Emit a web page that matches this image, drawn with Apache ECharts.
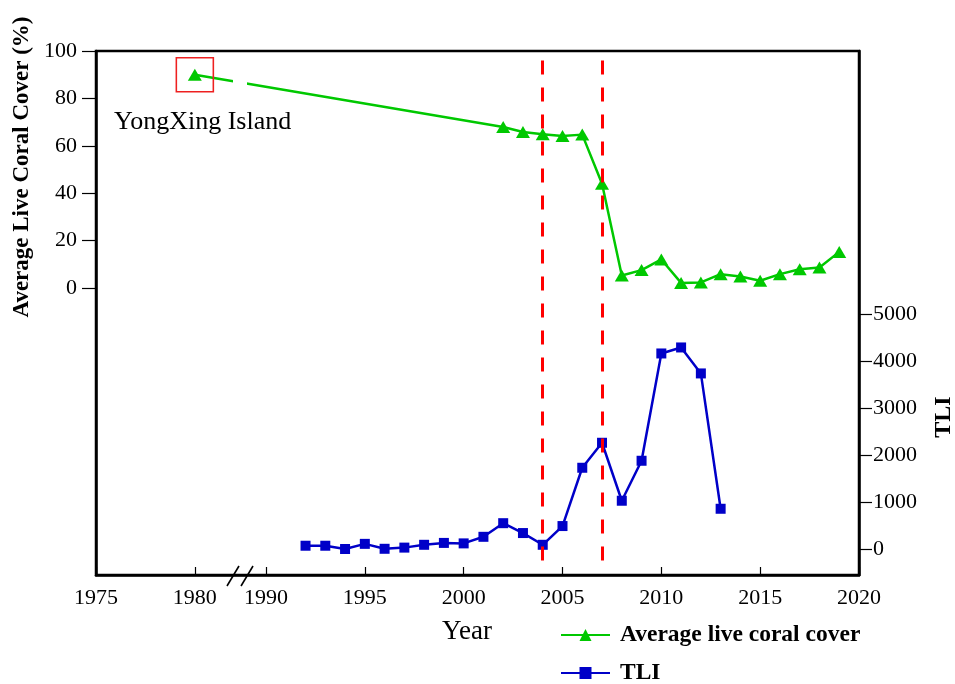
<!DOCTYPE html>
<html>
<head>
<meta charset="utf-8">
<script src="https://cdn.jsdelivr.net/npm/echarts@6/dist/echarts.min.js"></script>
<style>html,body{margin:0;padding:0;background:#fff}#c{width:955px;height:684px}</style>
</head>
<body>
<div id="c"></div>
<script>
// ---- data ----
const coralYears = [1980, 2002, 2003, 2004, 2005, 2006, 2007, 2008, 2009, 2010, 2011, 2012, 2013, 2014, 2015, 2016, 2017, 2018, 2019];
const coralCover = [90, 67.9, 65.8, 64.9, 64.1, 64.7, 44, 5.2, 7.5, 12, 2.1, 2.3, 5.8, 4.8, 3.0, 5.8, 7.9, 8.6, 15.2];
const tliYears = [1992, 1993, 1994, 1995, 1996, 1997, 1998, 1999, 2000, 2001, 2002, 2003, 2004, 2005, 2006, 2007, 2008, 2009, 2010, 2011, 2012, 2013];
const tliValues = [70, 70, 0, 110, 5, 30, 90, 130, 120, 260, 550, 340, 90, 489, 1730, 2262, 1028, 1879, 4163, 4291, 3738, 857];
const xTickYears = [1975, 1980, 1990, 1995, 2000, 2005, 2010, 2015, 2020];
const coralTicks = [0, 20, 40, 60, 80, 100];
const tliTicks = [0, 1000, 2000, 3000, 4000, 5000];
const eventYears = [2004, 2007];
const highlightYear = 1980;
const seriesNames = ['Average live coral cover', 'TLI'];

// broken x axis: years before 1990 are shifted right
const BREAK_SHIFT = 6.4;
const T = y => (y < 1990 ? y + BREAK_SHIFT : y);
const breakMarks = [1988.33, 1989.04];

const FF = 'Liberation Serif';
const chart = echarts.init(document.getElementById('c'), null, {renderer: 'canvas'});

const legendText = {fontFamily: FF, fontSize: 23.5, fontWeight: 'bold', color: '#000', padding: [0, 0, 0, 5]};

const option = {
  animation: false,
  backgroundColor: '#fff',
  grid: {left: 96, right: 96, top: 51, bottom: 109, show: true, borderColor: '#000', borderWidth: 2.5, containLabel: false},
  xAxis: {
    type: 'value', min: T(1975), max: 2020,
    axisLine: {onZero: false, lineStyle: {color: '#000', width: 2.5}},
    axisTick: {inside: true, length: 8, lineStyle: {color: '#000', width: 1.2}, customValues: xTickYears.map(T)},
    axisLabel: {customValues: xTickYears.map(T), color: '#000', fontFamily: FF, fontSize: 22, margin: 12,
      formatter: v => String(Math.round(v < 1990 ? v - BREAK_SHIFT : v))},
    splitLine: {show: false}
  },
  yAxis: [
    {
      type: 'value', position: 'left', min: -121.2, max: 100,
      axisLine: {onZero: false, lineStyle: {color: '#000', width: 2.5}},
      axisTick: {inside: false, length: 14, lineStyle: {color: '#000', width: 1.2}, customValues: coralTicks},
      axisLabel: {customValues: coralTicks, color: '#000', fontFamily: FF, fontSize: 22, margin: 19, formatter: v => String(v)},
      splitLine: {show: false}
    },
    {
      type: 'value', position: 'right', min: -553, max: 10602,
      axisLine: {onZero: false, lineStyle: {color: '#000', width: 2.5}},
      axisTick: {inside: false, length: 13, lineStyle: {color: '#000', width: 1.2}, customValues: tliTicks},
      axisLabel: {customValues: tliTicks, color: '#000', fontFamily: FF, fontSize: 22, margin: 14, formatter: v => String(v)},
      splitLine: {show: false}
    }
  ],
  legend: [
    {left: 555, top: 618, itemWidth: 49, itemHeight: 15, textStyle: legendText, data: [seriesNames[0]]},
    {left: 555, top: 656, itemWidth: 49, itemHeight: 15, textStyle: legendText, data: [seriesNames[1]]}
  ],
  series: [
    {
      name: seriesNames[0], type: 'line', yAxisIndex: 0,
      data: coralYears.map((y, i) => [T(y), coralCover[i]]),
      symbol: 'triangle', symbolSize: [14, 12],
      lineStyle: {color: '#00c800', width: 2.5},
      itemStyle: {color: '#00c800'},
      z: 3,
      markPoint: {
        symbol: 'rect', symbolSize: [37, 34], silent: true,
        itemStyle: {color: 'rgba(0,0,0,0)', borderColor: '#ee2020', borderWidth: 1.5},
        label: {show: false},
        data: [{coord: [T(highlightYear), coralCover[coralYears.indexOf(highlightYear)]]}]
      },
      markLine: {
        silent: true, symbol: 'none', animation: false,
        label: {show: false},
        lineStyle: {color: '#ff0000', width: 3, type: [14, 13]},
        data: eventYears.map(y => [{coord: [y, 96]}, {coord: [y, -119]}])
      }
    },
    {
      name: seriesNames[1], type: 'line', yAxisIndex: 1,
      data: tliYears.map((y, i) => [y, tliValues[i]]),
      symbol: 'rect', symbolSize: 10,
      lineStyle: {color: '#0000c8', width: 2.5},
      itemStyle: {color: '#0000c8'},
      z: 3
    },
    {
      type: 'custom', yAxisIndex: 0, clip: false, silent: true, z: 10,
      data: [[breakMarks[0], breakMarks[1]]],
      renderItem: function (params, api) {
        const a = api.coord([api.value(0), -121.2]);
        const b = api.coord([api.value(1), -121.2]);
        const g1 = api.coord([api.value(0), 95]);
        const g2 = api.coord([api.value(1), 78]);
        const slash = p => ({type: 'line', shape: {x1: p[0] - 6, y1: p[1] + 11, x2: p[0] + 6, y2: p[1] - 9},
          style: {stroke: '#000', lineWidth: 1.6}});
        return {type: 'group', children: [
          {type: 'rect', shape: {x: g1[0], y: g1[1], width: g2[0] - g1[0], height: g2[1] - g1[1]}, style: {fill: '#fff'}},
          slash(a), slash(b)
        ]};
      }
    }
  ],
  graphic: [
    {type: 'text', x: 22, y: 167, rotation: Math.PI / 2,
      style: {text: 'Average Live Coral Cover (%)', fontFamily: FF, fontSize: 23, fontWeight: 'bold', fill: '#000', align: 'center', verticalAlign: 'middle'}},
    {type: 'text', x: 944, y: 417, rotation: Math.PI / 2,
      style: {text: 'TLI', fontFamily: FF, fontSize: 24, fontWeight: 'bold', fill: '#000', align: 'center', verticalAlign: 'middle'}},
    {type: 'text', x: 467, y: 632,
      style: {text: 'Year', fontFamily: FF, fontSize: 27, fill: '#000', align: 'center', verticalAlign: 'middle'}},
    {type: 'text', x: 114, y: 122,
      style: {text: 'YongXing Island', fontFamily: FF, fontSize: 26, fill: '#000', align: 'left', verticalAlign: 'middle'}}
  ]
};
chart.setOption(option);
</script>
</body>
</html>
